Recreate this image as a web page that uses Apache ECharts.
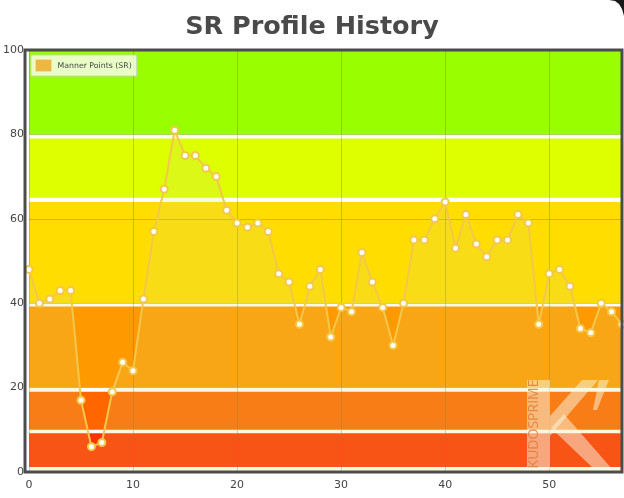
<!DOCTYPE html>
<html>
<head>
<meta charset="utf-8">
<script src="https://cdn.jsdelivr.net/npm/echarts@6/dist/echarts.min.js"></script>
<style>
html,body{margin:0;padding:0;background:#fff;}
#chart{width:624px;height:498px;}
</style>
</head>
<body>
<div id="chart"></div>
<script>
// ---- data ----
const titleText = 'SR Profile History';
const seriesName = 'Manner Points (SR)';
const xValues = [0,1,2,3,4,5,6,7,8,9,10,11,12,13,14,15,16,17,18,19,20,21,22,23,24,25,26,27,28,29,30,31,32,33,34,35,36,37,38,39,40,41,42,43,44,45,46,47,48,49,50,51,52,53,54,55,56,57];
const srValues = [48,40,41,43,43,17,6,7,19,26,24,41,57,67,81,75,75,72,70,62,59,58,59,57,47,45,35,44,48,32,39,38,52,45,39,30,40,55,55,60,64,53,61,54,51,55,55,61,59,35,47,48,44,34,33,40,38,35];
const bandLow  = [1.2, 10, 20, 40, 65, 80];
const bandHigh = [9.2, 19, 39.2, 64, 79, 100];
const bandColors = ['#ff3300','#ff6600','#ff9900','#ffdd00','#ddff00','#99ff00'];
const xTickInterval = 10;
const yTickInterval = 20;

// ---- layout ----
const G = {left:25, right:2, top:50, bottom:26};
const W = 624, H = 498;

const chart = echarts.init(document.getElementById('chart'), null, {renderer:'canvas'});

const pts = xValues.map((x,i)=>[x, srValues[i]]);
const bandAreas = bandLow.map((lo,i)=>[
  {yAxis: lo, itemStyle:{color: bandColors[i], opacity:1}},
  {yAxis: bandHigh[i]}
]);

const wmFill = 'rgba(255,255,255,0.5)';

chart.setOption({
  animation:false,
  backgroundColor:'#ffffff',
  title:{
    text:titleText,
    left:'center',
    top:9,
    textStyle:{fontFamily:'DejaVu Sans', fontSize:25.5, fontWeight:'bold', color:'#4a4a4a'}
  },
  legend:{
    left:31, top:55,
    padding:[4,5,4,4],
    backgroundColor:'rgba(255,255,255,0.78)',
    borderColor:'rgba(200,200,200,0.8)',
    borderWidth:1,
    borderRadius:0,
    itemWidth:16, itemHeight:12, itemGap:5,
    data:[{name:seriesName, icon:'rect', itemStyle:{color:'#edb744', borderColor:'#f7dc98', borderWidth:1}}],
    textStyle:{fontFamily:'DejaVu Sans', fontSize:7.8, color:'#444', padding:[0,0,0,1]}
  },
  grid:{left:G.left, right:G.right, top:G.top, bottom:G.bottom, show:false},
  xAxis:{
    type:'value', min:0, max:57, interval:xTickInterval, z:3,
    axisLine:{show:false}, axisTick:{show:false},
    axisLabel:{showMaxLabel:false, margin:8, fontFamily:'DejaVu Sans', fontSize:11, color:'#444'},
    splitLine:{show:true, lineStyle:{color:'rgba(110,110,40,0.32)', width:1}}
  },
  yAxis:{
    type:'value', min:0, max:100, interval:yTickInterval, z:3,
    axisLine:{show:false}, axisTick:{show:false},
    axisLabel:{margin:5, fontFamily:'DejaVu Sans', fontSize:11, color:'#444'},
    splitLine:{show:true, lineStyle:{color:'rgba(110,110,40,0.32)', width:1}}
  },
  series:[
    {
      name:'bands', type:'line', data:[], z:1, silent:true,
      markArea:{silent:true, data:bandAreas}
    },
    {
      name:seriesName, type:'line', data:pts, z:5,
      smooth:false,
      symbol:'circle', symbolSize:7, showSymbol:true,
      lineStyle:{color:'#f3c84a', width:2},
      itemStyle:{color:'#ffffff', borderColor:'#f3c84a', borderWidth:2},
      areaStyle:{color:'rgba(218,218,113,0.28)', origin:'start'}
    }
  ],
  graphic:[
    // watermark logo
    {type:'rect', z:4, silent:true, shape:{x:527, y:380, width:23, height:89}, style:{fill:wmFill}},
    {type:'polygon', z:4, silent:true, shape:{points:[[550,416],[582,380],[598,380],[550,436]]}, style:{fill:wmFill}},
    {type:'polygon', z:4, silent:true, shape:{points:[[551,428],[564,414],[612,469],[594,469]]}, style:{fill:wmFill}},
    {type:'polygon', z:4, silent:true, shape:{points:[[599,380],[609,380],[597,410],[593,410]]}, style:{fill:wmFill}},
    {type:'text', z:4, silent:true, x:534, y:424, rotation:Math.PI/2,
      style:{text:'KUDOSPRIME', fontFamily:'Open Sans', fontSize:14, fill:'rgba(225,105,40,0.85)', align:'center', verticalAlign:'middle'}},
    // plot border
    {type:'rect', z:10, silent:true,
      shape:{x:G.left, y:G.top, width:W-G.left-G.right, height:H-G.top-G.bottom},
      style:{fill:null, stroke:'#4c4c4c', lineWidth:3}},
    // corner of frame
    {type:'polygon', z:10, silent:true, shape:{points:[[609,0],[615,1],[619,4],[622,9],[624,16],[624,0]]}, style:{fill:'#1a1a1a'}}
  ]
});
</script>
</body>
</html>
